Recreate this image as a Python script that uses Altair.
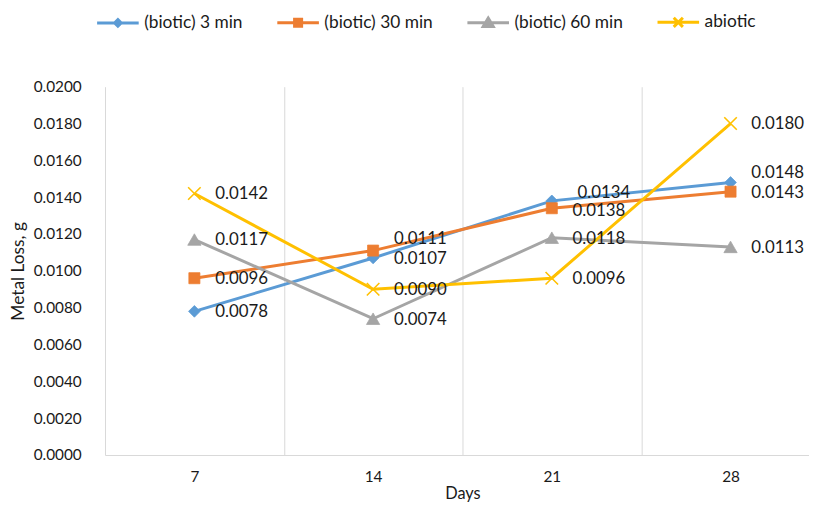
import altair as alt
import pandas as pd

# ---------------- data ----------------
days = ["7", "14", "21", "28"]
series = ["(biotic) 3 min", "(biotic) 30 min", "(biotic) 60 min", "abiotic"]
loss_biotic_3 = [0.0078, 0.0107, 0.0138, 0.0148]
loss_biotic_30 = [0.0096, 0.0111, 0.0134, 0.0143]
loss_biotic_60 = [0.0117, 0.0074, 0.0118, 0.0113]
loss_abiotic = [0.0142, 0.0090, 0.0096, 0.0180]
y_ticks = [0.0, 0.002, 0.004, 0.006, 0.008, 0.010, 0.012, 0.014, 0.016, 0.018, 0.020]

# ---------------- styles ----------------
colors = ["#5B9BD5", "#ED7D31", "#A5A5A5", "#FFC000"]
marker_shapes = ["diamond", "square", "triangle-up", "M-1,-1L1,1M-1,1L1,-1"]
marker_sizes = [140, 125, 180, 160]
marker_filled = [True, True, True, False]
legend_paths = [
    "M-1,0H1M0,-0.16L0.16,0L0,0.16L-0.16,0Z",
    "M-1,0H1M-0.17,-0.17H0.17V0.17H-0.17Z",
    "M-1,0H1M0,-0.22L0.24,0.18L-0.24,0.18Z",
    "M-1,0H1M-0.22,-0.22L0.22,0.22M-0.22,0.22L0.22,-0.22",
]
FONT = "Lato"
TXT = "#1a1a1a"
GRID = "#d9d9d9"
# label nudges (dx, dy) in pixels, default (21, 1)
label_nudge = {
    ("(biotic) 30 min", "14"): (21, -12),
    ("(biotic) 3 min", "21"): (21, 10),
    ("(biotic) 30 min", "21"): (26, -15),
    ("(biotic) 3 min", "28"): (21, -9),
}

rows = []
for s, vals in zip(series, [loss_biotic_3, loss_biotic_30, loss_biotic_60, loss_abiotic]):
    for d, v in zip(days, vals):
        dx, dy = label_nudge.get((s, d), (21, 1))
        rows.append({"series": s, "day": d, "loss": v, "label": f"{v:.4f}", "dx": dx, "dy": dy})
df = pd.DataFrame(rows)

W, H = 711, 372

x_enc = alt.X(
    "day:N",
    sort=days,
    scale=alt.Scale(type="band", domain=days, range=[0, 722], paddingInner=0, paddingOuter=0),
    axis=alt.Axis(
        title="Days", labelAngle=0, tickBand="extent", grid=True, gridColor=GRID, gridWidth=1,
        ticks=False, domain=True, domainColor=GRID, domainWidth=1,
        labelFont=FONT, labelFontSize=15.5, labelColor=TXT, labelPadding=15,
        titleFont=FONT, titleFontSize=16.5, titleFontWeight="normal", titleColor=TXT,
        titleX=361, titleY=39, titleBaseline="middle", titleAlign="center",
    ),
)
y_enc = alt.Y(
    "loss:Q",
    scale=alt.Scale(domain=[0, 0.02], nice=False),
    axis=alt.Axis(
        values=y_ticks, format=".4f", domain=False, ticks=False, grid=False,
        labelFont=FONT, labelFontSize=15.5, labelColor=TXT, labelPadding=24,
        title="Metal Loss, g", titleFont=FONT, titleFontSize=17.5, titleFontWeight="normal",
        titleColor=TXT, titleX=-87, titleY=H / 2, titleAngle=270,
        titleAlign="center", titleBaseline="middle",
    ),
)

base = alt.Chart(df)

line_layers = []
point_layers = []
for i, s in enumerate(series):
    sub = base.transform_filter(alt.datum.series == s)
    line_layers.append(sub.mark_line(strokeWidth=3, color=colors[i]).encode(x=x_enc, y=y_enc))
    if marker_filled[i]:
        mk = dict(shape=marker_shapes[i], size=marker_sizes[i], filled=True,
                  fill=colors[i], stroke=colors[i], strokeWidth=0.75, opacity=1)
    else:
        mk = dict(shape=marker_shapes[i], size=marker_sizes[i], filled=False,
                  stroke=colors[i], strokeWidth=1.6, opacity=1)
    point_layers.append(sub.mark_point(**mk).encode(x=x_enc, y=y_enc))

text_layers = []
for (dx, dy), sub in df.groupby(["dx", "dy"]):
    text_layers.append(
        alt.Chart(sub).mark_text(align="left", baseline="middle", dx=int(dx), dy=int(dy),
                                 font=FONT, fontSize=17, color=TXT)
        .encode(x=x_enc, y=y_enc, text="label:N")
    )

legend_def = alt.Legend(
    title=None, orient="none", legendX=-9.5, legendY=-88, direction="horizontal", columns=4,
    symbolSize=1764, symbolStrokeWidth=3, symbolOpacity=1,
    labelFont=FONT, labelFontSize=17.5, labelColor=TXT, labelOffset=4,
    columnPadding=28, padding=0,
)
legend_layer = base.mark_point(filled=True, opacity=0, size=1).encode(
    x=x_enc, y=y_enc,
    fill=alt.Fill("series:N", scale=alt.Scale(domain=series, range=colors), legend=legend_def),
    stroke=alt.Stroke("series:N", scale=alt.Scale(domain=series, range=colors), legend=legend_def),
    shape=alt.Shape("series:N", scale=alt.Scale(domain=series, range=legend_paths), legend=legend_def),
)

chart = alt.layer(*line_layers, *point_layers, *text_layers, legend_layer).properties(
    width=W, height=H,
    autosize=alt.AutoSizeParams(type="none"),
    padding={"left": 98, "top": 77, "right": 0, "bottom": 46},
).configure_view(stroke=None)

chart.save("out.html", embed_options={"renderer": "svg", "actions": False})
